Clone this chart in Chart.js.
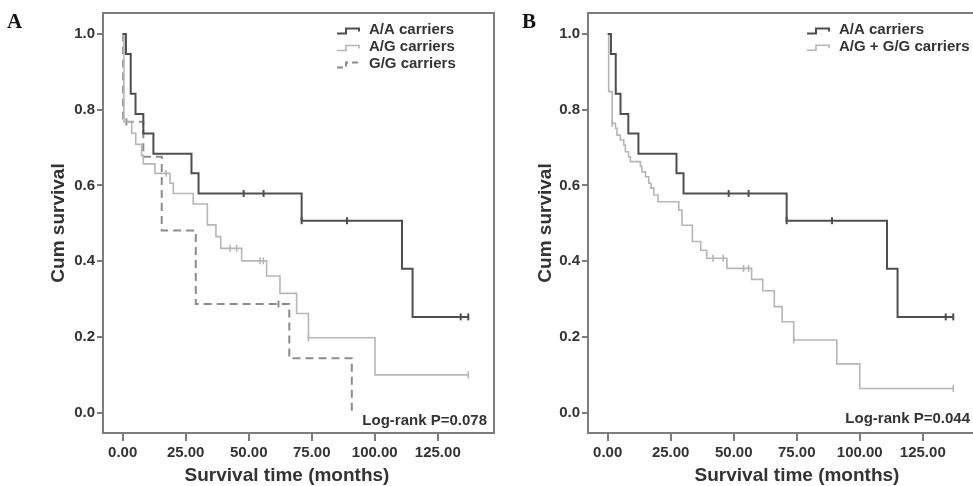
<!DOCTYPE html>
<html>
<head>
<meta charset="utf-8">
<script src="https://cdn.jsdelivr.net/npm/chart.js@4.4.0/dist/chart.umd.min.js"></script>
<style>
  html, body { margin: 0; padding: 0; background: #fff; }
  body { width: 973px; height: 486px; overflow: hidden; position: relative; }
  canvas { position: absolute; top: 0; }
  #chartA { left: 0; }
  #chartB { left: 485px; }
</style>
</head>
<body>
<canvas id="chartA" width="500" height="486"></canvas>
<canvas id="chartB" width="500" height="486"></canvas>
<script>
// axis ticks
const xTicks = [0, 25, 50, 75, 100, 125];
const yTicks = [0, 0.2, 0.4, 0.6, 0.8, 1.0];

// A/A carriers (same curve in both panels)
const aaTime = [0, 1.3, 3.2, 5.1, 8.2, 12.2, 27.3, 30.1, 71.0, 110.8, 115.0, 137.1];
const aaSurv = [1, 0.947, 0.842, 0.789, 0.737, 0.684, 0.632, 0.579, 0.507, 0.380, 0.253, 0.253];
const aaCens = [48.0, 55.9, 71.0, 89.0, 134.1, 137.1];

// A/G carriers (panel A)
const agTime = [0, 0.5, 3.6, 5.2, 7.5, 8.2, 12.8, 18.8, 20.1, 28.0, 33.6, 37.0, 38.9, 47.2, 57.1, 62.4, 69.0, 73.7, 100.1, 137.1];
const agSurv = [1, 0.768, 0.738, 0.709, 0.680, 0.657, 0.632, 0.606, 0.579, 0.551, 0.496, 0.465, 0.434, 0.401, 0.361, 0.315, 0.262, 0.198, 0.100, 0.100];
const agCens = [17.2, 42.6, 45.2, 54.5, 55.8, 73.7, 137.1];

// G/G carriers (panel A)
const ggTime = [0, 0.2, 8.2, 15.5, 29.0, 66.1, 90.9];
const ggSurv = [1, 0.768, 0.676, 0.481, 0.287, 0.144, 0];
const ggCens = [1.5, 61.8];

// A/G + G/G carriers (panel B)
const mixTime = [0, 0.4, 1.8, 3.1, 3.7, 5.0, 6.4, 7.0, 8.3, 9.0, 13.0, 13.6, 15.0, 16.3, 17.2, 18.3, 20.0, 28.2, 29.5, 33.6, 36.9, 39.3, 47.3, 57.1, 61.5, 66.1, 69.2, 73.8, 90.9, 100.0, 137.1];
const mixSurv = [1, 0.848, 0.764, 0.751, 0.733, 0.720, 0.707, 0.689, 0.676, 0.663, 0.650, 0.636, 0.623, 0.606, 0.593, 0.575, 0.557, 0.535, 0.495, 0.452, 0.429, 0.408, 0.381, 0.352, 0.322, 0.280, 0.240, 0.192, 0.129, 0.064, 0.064];
const mixCens = [1.8, 41.8, 45.8, 53.9, 55.9, 73.8, 137.1];

const FONT = "'Liberation Sans', Arial, sans-serif";
const DARK = '#4e4e4e', LIGHT = '#b6b6b6', MID = '#8c8c8c';

function survAt(times, surv, t) {
  let s = surv[0];
  for (let i = 0; i < times.length; i++) if (times[i] <= t) s = surv[i];
  return s;
}

function curve(times, surv, color, width, dash) {
  return {
    type: 'line',
    data: times.map((t, i) => ({ x: t, y: surv[i] })),
    stepped: 'before',
    borderColor: color,
    borderWidth: width,
    borderDash: dash || [],
    pointRadius: 0,
    fill: false
  };
}

function marks(times, surv, cens, color, width) {
  return {
    type: 'scatter',
    data: cens.map(t => ({ x: t, y: survAt(times, surv, t) })),
    pointStyle: 'line',
    rotation: 90,
    pointRadius: 3.5,
    borderColor: color,
    borderWidth: width,
    showLine: false
  };
}

// box, legend, titles and other text around the plot
const decor = {
  id: 'decor',
  afterDraw(chart, args, o) {
    const { ctx, chartArea: a } = chart;
    ctx.save();
    ctx.strokeStyle = '#7d7d7d';
    ctx.lineWidth = 2;
    ctx.strokeRect(a.left, a.top, a.right - a.left, a.bottom - a.top);

    ctx.fillStyle = '#111';
    ctx.font = "bold 21px 'Liberation Serif', 'Times New Roman', serif";
    ctx.textBaseline = 'alphabetic';
    ctx.textAlign = 'left';
    ctx.fillText(o.letter, o.letterX, 28);

    ctx.fillStyle = '#333';
    ctx.font = 'bold 19px ' + FONT;
    ctx.textAlign = 'center';
    ctx.textBaseline = 'middle';
    ctx.fillText('Survival time (months)', o.xTitleX, 476);
    ctx.save();
    ctx.translate(o.yTitleX, 223);
    ctx.rotate(-Math.PI / 2);
    ctx.fillText('Cum survival', 0, 0);
    ctx.restore();

    ctx.font = 'bold 15px ' + FONT;
    ctx.textAlign = 'right';
    ctx.fillText(o.pText, o.pX, o.pY);

    ctx.textAlign = 'left';
    o.legend.forEach((it, i) => {
      const y = o.legY + i * o.legGap;
      const x = o.legX;
      ctx.strokeStyle = it.color;
      ctx.lineWidth = it.width;
      ctx.setLineDash(it.dash || []);
      ctx.beginPath();
      ctx.moveTo(x, y + 3.5);
      ctx.lineTo(x + 9, y + 3.5);
      ctx.lineTo(x + 9, y - 1.5);
      ctx.lineTo(x + 22, y - 1.5);
      ctx.lineTo(x + 22, y + 1.5);
      ctx.stroke();
      ctx.setLineDash([]);
      ctx.fillStyle = '#333';
      ctx.fillText(it.text, x + 32, y);
    });
    ctx.restore();
  }
};

function makeChart(id, datasets, deco) {
  new Chart(document.getElementById(id), {
    type: 'line',
    data: { datasets },
    plugins: [decor],
    options: {
      responsive: false,
      animation: false,
      events: [],
      layout: { padding: { top: 13, right: 6, left: 0, bottom: 0 } },
      plugins: { legend: { display: false }, tooltip: { enabled: false }, decor: deco },
      scales: {
        x: {
          type: 'linear',
          min: -7.8,
          max: 147.3,
          afterBuildTicks: s => { s.ticks = xTicks.map(v => ({ value: v })); },
          afterFit: s => { s.height = 53; },
          border: { display: false },
          grid: { drawOnChartArea: false, tickLength: 8, color: '#7d7d7d', lineWidth: 2 },
          ticks: {
            padding: 3,
            color: '#333',
            font: { family: FONT, size: 15, weight: 'bold' },
            maxRotation: 0,
            callback: v => Number(v).toFixed(2)
          }
        },
        y: {
          type: 'linear',
          min: -0.0536,
          max: 1.0555,
          afterBuildTicks: s => { s.ticks = yTicks.map(v => ({ value: v })); },
          afterFit: s => { s.width = 103; },
          border: { display: false },
          grid: { drawOnChartArea: false, tickLength: 6, color: '#7d7d7d', lineWidth: 2 },
          ticks: {
            padding: 2,
            color: '#333',
            font: { family: FONT, size: 15, weight: 'bold' },
            callback: v => Number(v).toFixed(1)
          }
        }
      }
    }
  });
}

makeChart('chartA', [
  curve(aaTime, aaSurv, DARK, 2),
  curve(agTime, agSurv, LIGHT, 1.6),
  curve(ggTime, ggSurv, MID, 2, [8, 5]),
  marks(aaTime, aaSurv, aaCens, DARK, 2),
  marks(agTime, agSurv, agCens, LIGHT, 1.6),
  marks(ggTime, ggSurv, ggCens, MID, 2)
], {
  letter: 'A', letterX: 7,
  xTitleX: 287, yTitleX: 59,
  pText: 'Log-rank P=0.078', pX: 487, pY: 421,
  legX: 337, legY: 30, legGap: 17,
  legend: [
    { text: 'A/A carriers', color: DARK, width: 2 },
    { text: 'A/G carriers', color: LIGHT, width: 1.6 },
    { text: 'G/G carriers', color: MID, width: 2, dash: [6, 4] }
  ]
});

makeChart('chartB', [
  curve(aaTime, aaSurv, DARK, 2),
  curve(mixTime, mixSurv, LIGHT, 1.6),
  marks(aaTime, aaSurv, aaCens, DARK, 2),
  marks(mixTime, mixSurv, mixCens, LIGHT, 1.6)
], {
  letter: 'B', letterX: 522 - 485,
  xTitleX: 797 - 485, yTitleX: 546 - 485,
  pText: 'Log-rank P=0.044', pX: 970 - 485, pY: 419,
  legX: 807 - 485, legY: 30, legGap: 16.7,
  legend: [
    { text: 'A/A carriers', color: DARK, width: 2 },
    { text: 'A/G + G/G carriers', color: LIGHT, width: 1.6 }
  ]
});
</script>
</body>
</html>
